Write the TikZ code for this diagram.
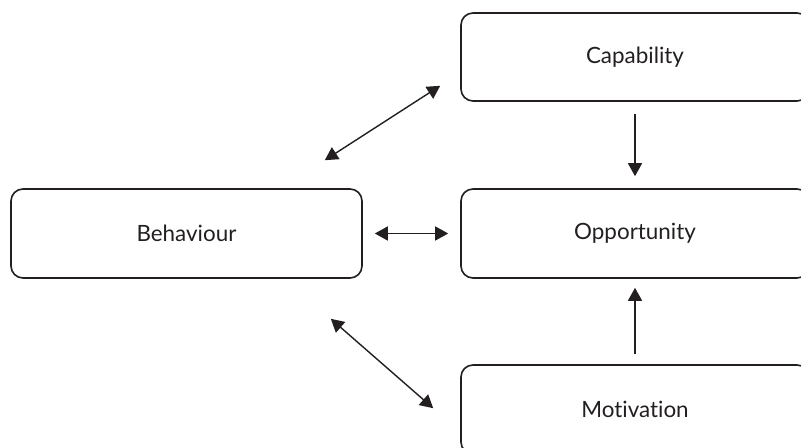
\documentclass[tikz,border=0pt]{standalone}
\usepackage{fontspec}
\setmainfont[Ligatures={NoCommon,NoDiscretionary}]{Lato}
\usepackage{tikz}
\usetikzlibrary{positioning,calc}
\usetikzlibrary{shapes.geometric, arrows.meta}
\definecolor{ink}{RGB}{35,31,32}
\tikzstyle{block} = [rectangle, rounded corners=12bp, draw=ink, line width=1.6bp, text=ink, font=\fontsize{22.5}{27}\selectfont, inner sep=0pt]
\tikzstyle{arrow} = [draw=ink, line width=1.4bp, ->, >={Triangle[length=13bp,width=14bp]}]
\tikzstyle{darrow} = [arrow, <->]

\begin{document}
\begin{tikzpicture}[x=1bp, y=-1bp]
    \clip (0,0) rectangle (801,448);
    \node[block, minimum width=351bp, minimum height=89bp] (beh) at (186.5,233.5) {Behaviour};
    \node[block, minimum width=348bp, minimum height=88bp] (cap) at (635,57) {Capability};
    \node[block, minimum width=348bp, minimum height=89bp] (opp) at (635,233.5) {Opportunity};
    \node[block, minimum width=348bp, minimum height=89bp] (mot) at (635,409.5) {Motivation};
    \draw[darrow] ($(beh.north east)+(-38,-28)$) -- ($(cap.south west)+(-20,-16)$);
    \draw[darrow, shorten <=12bp, shorten >=12bp] (beh.east) -- (opp.west);
    \draw[darrow] ($(beh.south east)+(-32,40)$) -- ($(mot.north west)+(-27,44)$);
    \draw[arrow, shorten <=12bp, shorten >=12bp] (cap.south) -- (opp.north);
    \draw[arrow, shorten <=10bp, shorten >=9bp] (mot.north) -- (opp.south);
    % \draw[red, dashed] (beh) -- (cap);
\end{tikzpicture}
\end{document}
